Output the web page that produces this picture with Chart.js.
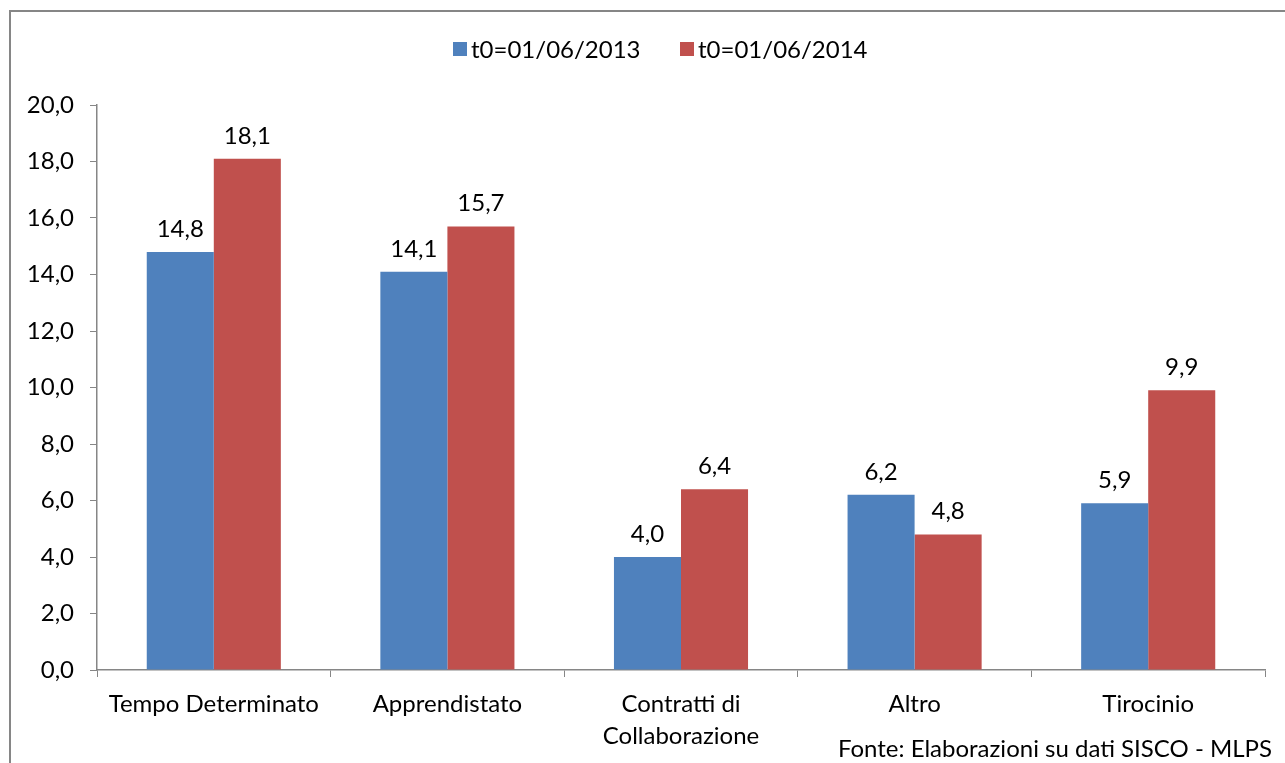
<!DOCTYPE html>
<html>
<head>
<meta charset="utf-8">
<script src="https://cdn.jsdelivr.net/npm/chart.js@4.4.1/dist/chart.umd.min.js"></script>
<style>
  body { margin: 0; background: #fff; }
  #wrap { position: relative; width: 1285px; height: 763px; }
  #frame { position: absolute; left: 9px; top: 10px; width: 1300px; height: 800px;
           border-left: 2px solid #868686; border-top: 2px solid #868686; }
  canvas { position: absolute; left: 0; top: 0; }
</style>
</head>
<body>
<div id="wrap">
  <div id="frame"></div>
  <canvas id="chart" width="1285" height="763"></canvas>
</div>
<script>
const categories = ["Tempo Determinato", "Apprendistato", ["Contratti di", "Collaborazione"], "Altro", "Tirocinio"];
const series2013 = [14.8, 14.1, 4.0, 6.2, 5.9];
const series2014 = [18.1, 15.7, 6.4, 4.8, 9.9];
const seriesNames = ["t0=01/06/2013", "t0=01/06/2014"];
const yTicks = [0, 2, 4, 6, 8, 10, 12, 14, 16, 18, 20];
const sourceNote = "Fonte: Elaborazioni su dati SISCO - MLPS";

const FONT = "Lato, 'Open Sans', sans-serif";
const FSIZE = 24;
const blue = "#4F81BD";
const red = "#C0504D";
const axisGray = "#868686";

function fmt(v){
    return v.toFixed(1).replace(".", ",");
}

// value labels over bars + custom legend + source note
const extras = {
    id: "extras",
    afterDatasetsDraw(chart){
        const ctx = chart.ctx;
        ctx.save();
        ctx.font = FSIZE + "px " + FONT;
        ctx.fillStyle = "#000";
        ctx.textAlign = "center";
        ctx.textBaseline = "alphabetic";
        chart.data.datasets.forEach((ds, i) => {
            chart.getDatasetMeta(i).data.forEach((bar, j) => {
                ctx.fillText(fmt(ds.data[j]), bar.x, bar.y - 15);
            });
        });

        // legend
        ctx.textAlign = "left";
        ctx.textBaseline = "middle";
        let x = 453;
        const y = 49;
        seriesNames.forEach((name, i) => {
            ctx.fillStyle = i === 0 ? blue : red;
            ctx.fillRect(x, y - 7, 14, 14);
            ctx.fillStyle = "#000";
            ctx.fillText(name, x + 18, y + 1);
            x += 227;
        });

        // source
        ctx.textAlign = "right";
        ctx.fillText(sourceNote, 1272, 749);
        ctx.restore();
    }
};

new Chart(document.getElementById("chart"), {
    type: "bar",
    data: {
        labels: categories,
        datasets: [
            { label: seriesNames[0], data: series2013, backgroundColor: blue },
            { label: seriesNames[1], data: series2014, backgroundColor: red }
        ]
    },
    options: {
        responsive: false,
        animation: false,
        layout: { padding: { top: 105, right: 20, left: 0, bottom: 0 } },
        plugins: { legend: { display: false }, tooltip: { enabled: false } },
        datasets: { bar: { barPercentage: 1, categoryPercentage: 0.574 } },
        scales: {
            x: {
                grid: { offset: true, drawOnChartArea: false, color: axisGray, tickLength: 7 },
                border: { color: axisGray, width: 1.5 },
                ticks: { color: "#000", font: { family: FONT, size: FSIZE, lineHeight: 1.33 }, padding: 11, maxRotation: 0 },
                afterFit(s){ s.height = 93; }
            },
            y: {
                min: 0, max: 20,
                afterBuildTicks(s){ s.ticks = yTicks.map(v => ({ value: v })); },
                grid: { drawOnChartArea: false, color: axisGray, tickLength: 7 },
                border: { color: axisGray, width: 1.5 },
                ticks: { color: "#000", font: { family: FONT, size: FSIZE }, padding: 16,
                         callback: v => fmt(v) },
                afterFit(s){ s.width = 97; }
            }
        }
    },
    plugins: [extras]
});
</script>
</body>
</html>
